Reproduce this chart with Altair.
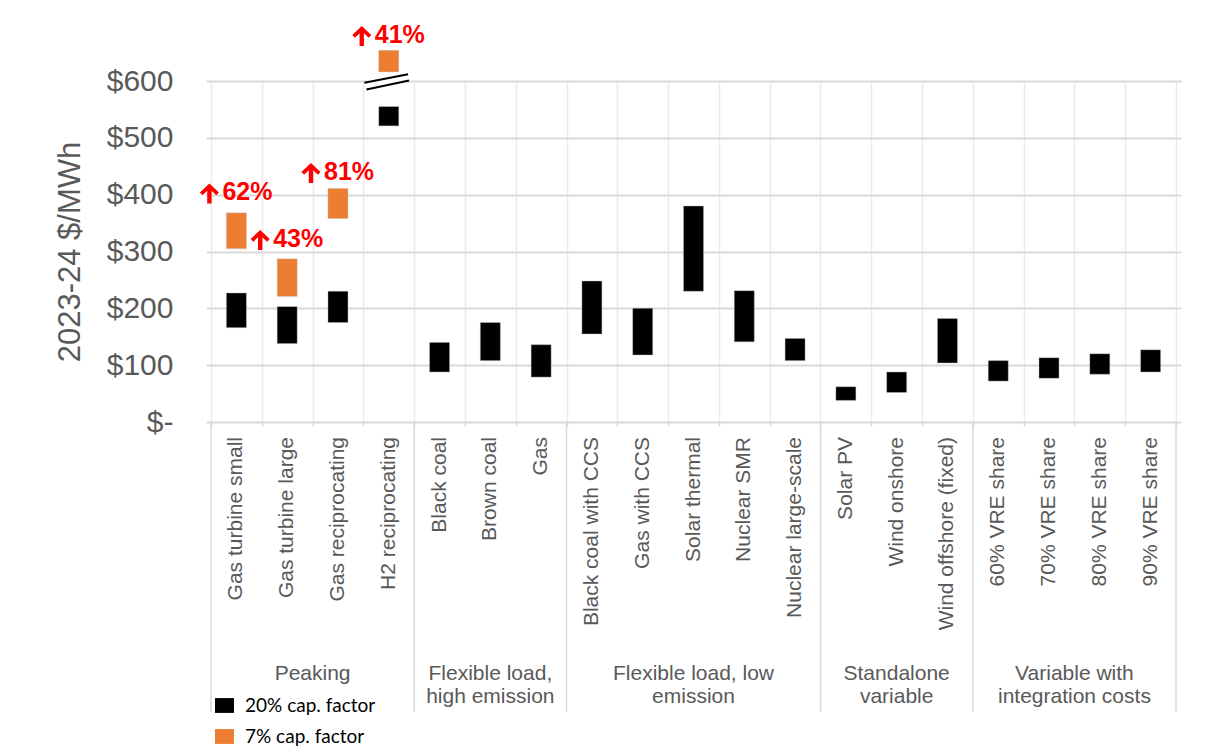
import altair as alt
import pandas as pd

# ---------------- data ----------------
categories = [
    "Gas turbine small", "Gas turbine large", "Gas reciprocating", "H2 reciprocating",
    "Black coal", "Brown coal", "Gas",
    "Black coal with CCS", "Gas with CCS", "Solar thermal", "Nuclear SMR", "Nuclear large-scale",
    "Solar PV", "Wind onshore", "Wind offshore (fixed)",
    "60% VRE share", "70% VRE share", "80% VRE share", "90% VRE share",
]
groups = [
    "Peaking",
    "Flexible load,\nhigh emission",
    "Flexible load, low\nemission",
    "Standalone\nvariable",
    "Variable with\nintegration costs",
]
group_sizes = [4, 3, 5, 3, 4]

low_20 = [166, 138, 175, 521, 88, 108, 79, 155, 118, 230, 141, 108, 38, 52, 104, 72, 77, 84, 88]
high_20 = [227, 203, 230, 555, 140, 175, 136, 248, 200, 380, 231, 147, 62, 88, 182, 108, 113, 120, 127]

orange_cats = ["Gas turbine small", "Gas turbine large", "Gas reciprocating", "H2 reciprocating"]
low_7 = [305, 221, 358, 616]
high_7 = [368, 287, 411, 654]

increase_pct = ["62%", "43%", "81%", "41%"]
increase_label_y = [404, 322, 440, 681]

series_names = ["20% cap. factor", "7% cap. factor"]
series_colors = ["#000000", "#ED7D31"]

y_ticks = [0, 100, 200, 300, 400, 500, 600]

# axis-break decoration on the H2 column (data units)
break_upper = [3.02, 597, 3.88, 612]
break_lower = [3.06, 585, 3.90, 601]

# thick up-arrow glyph (unit-square SVG path) used before the % labels
ARROW_PATH = ("M0,-1 L0.95,-0.1 L0.69,0.18 L0.22,-0.27 L0.22,1 L-0.22,1 "
              "L-0.22,-0.27 L-0.69,0.18 L-0.95,-0.1 Z")

# ---------------- tables ----------------
idx = {c: i for i, c in enumerate(categories)}
bars = pd.DataFrame({
    "cat": categories + orange_cats,
    "pos": [i + 0.5 for i in range(len(categories))] + [idx[c] + 0.5 for c in orange_cats],
    "lo": low_20 + low_7,
    "hi": high_20 + high_7,
    "series": [series_names[0]] * len(categories) + [series_names[1]] * len(orange_cats),
})

cat_df = pd.DataFrame({"cat": categories, "pos": [i + 0.5 for i in range(len(categories))]})

bounds = [0]
for s in group_sizes:
    bounds.append(bounds[-1] + s)
grp_df = pd.DataFrame({
    "grp": groups,
    "pos": [(bounds[i] + bounds[i + 1]) / 2 for i in range(len(groups))],
})
sep_df = pd.DataFrame({"pos": bounds})

ann_df = pd.DataFrame({
    "pos": [idx[c] + 0.5 for c in orange_cats],
    "lo": increase_label_y,
    "txt": increase_pct,
})

brk_df = pd.DataFrame([break_upper, break_lower], columns=["pos", "lo", "x2", "hi"])
brk_mid = pd.DataFrame([[(break_upper[k] + break_lower[k]) / 2 for k in range(4)]],
                       columns=["pos", "lo", "x2", "hi"])

FONT = "Liberation Sans"
GRAY = "#595959"
N = len(categories)
PLOT_W, PLOT_H = 975, 341

xscale = alt.Scale(domain=[0, N], nice=False, zero=False)
yscale = alt.Scale(domain=[0, 600], nice=False, zero=True)

X_AXIS = alt.Axis(values=list(range(N + 1)), labels=False, ticks=True, tickSize=4,
                  tickColor="#d9d9d9", tickWidth=1.5, domain=False, grid=True,
                  gridColor="#ebebeb", gridWidth=1.5, title=None)
Y_AXIS = alt.Axis(values=y_ticks, grid=True, gridColor="#d9d9d9", gridWidth=2,
                  domain=False, ticks=False, labelFont=FONT, labelFontSize=30,
                  labelColor=GRAY, labelPadding=33,
                  labelExpr="datum.value == 0 ? '$-\u00a0\u00a0\u00a0' : '$' + datum.value",
                  title="2023-24 $/MWh", titleFont=FONT, titleFontSize=31,
                  titleFontWeight="normal", titleColor=GRAY, titleAngle=-90,
                  titleX=-136, titleY=PLOT_H / 2, titleAlign="center",
                  titleBaseline="middle")


def X(field="pos"):
    return alt.X(f"{field}:Q", scale=xscale, axis=X_AXIS)


def Y(field="lo"):
    return alt.Y(f"{field}:Q", scale=yscale, axis=Y_AXIS)


# ---------------- layers ----------------
bar_layer = alt.Chart(bars).mark_bar(width=20, stroke="#bbbbbb", strokeWidth=0.4).encode(
    x=X(), y=Y(), y2="hi:Q",
    color=alt.Color("series:N",
                    scale=alt.Scale(domain=series_names, range=series_colors),
                    legend=alt.Legend(orient="none", legendX=9, legendY=615, title=None,
                                      direction="vertical", padding=0,
                                      symbolType="M-1,-0.78H1V0.78H-1Z", symbolSize=361,
                                      symbolStrokeWidth=0, labelFont="Lato",
                                      labelFontSize=19, labelColor="#000000",
                                      labelOffset=11, rowPadding=11)),
)

sep_layer = alt.Chart(sep_df).mark_rule(color="#d9d9d9", strokeWidth=1.5).encode(
    x=X(), y=alt.value(PLOT_H), y2=alt.value(631),
)

brk_white = alt.Chart(brk_mid).mark_rule(color="white", strokeWidth=7).encode(
    x=X(), x2="x2:Q", y=Y(), y2="hi:Q",
)
brk_black = alt.Chart(brk_df).mark_rule(color="black", strokeWidth=2).encode(
    x=X(), x2="x2:Q", y=Y(), y2="hi:Q",
)

ann_num = alt.Chart(ann_df).mark_text(
    font=FONT, fontSize=25, fontWeight="bold", color="#FF0000", align="left",
    baseline="middle", dx=-14
).encode(x=X(), y=Y(), text="txt:N")

ann_arrow = alt.Chart(ann_df).mark_point(
    shape=ARROW_PATH, size=400, filled=True, color="#FF0000", opacity=1,
    strokeWidth=0, xOffset=-27, yOffset=1
).encode(x=X(), y=Y())

cat_layer = alt.Chart(cat_df).mark_text(
    font=FONT, fontSize=21, color=GRAY, angle=270, align="right", baseline="middle"
).encode(x=X(), y=alt.value(PLOT_H + 15), text="cat:N")

grp_layer = alt.Chart(grp_df).mark_text(
    font=FONT, fontSize=21, color=GRAY, align="center", baseline="top",
    lineBreak="\n", lineHeight=23
).encode(x=X(), y=alt.value(582), text="grp:N")

chart = alt.layer(
    bar_layer, sep_layer, brk_white, brk_black, ann_num, ann_arrow, cat_layer, grp_layer
).properties(
    width=PLOT_W, height=PLOT_H,
    autosize=alt.AutoSizeParams(type="none"),
    padding={"left": 206, "top": 81, "right": 24, "bottom": 331},
    background="white",
).configure_view(stroke=None)

chart.save("out.html", embed_options={"renderer": "svg", "actions": False})
